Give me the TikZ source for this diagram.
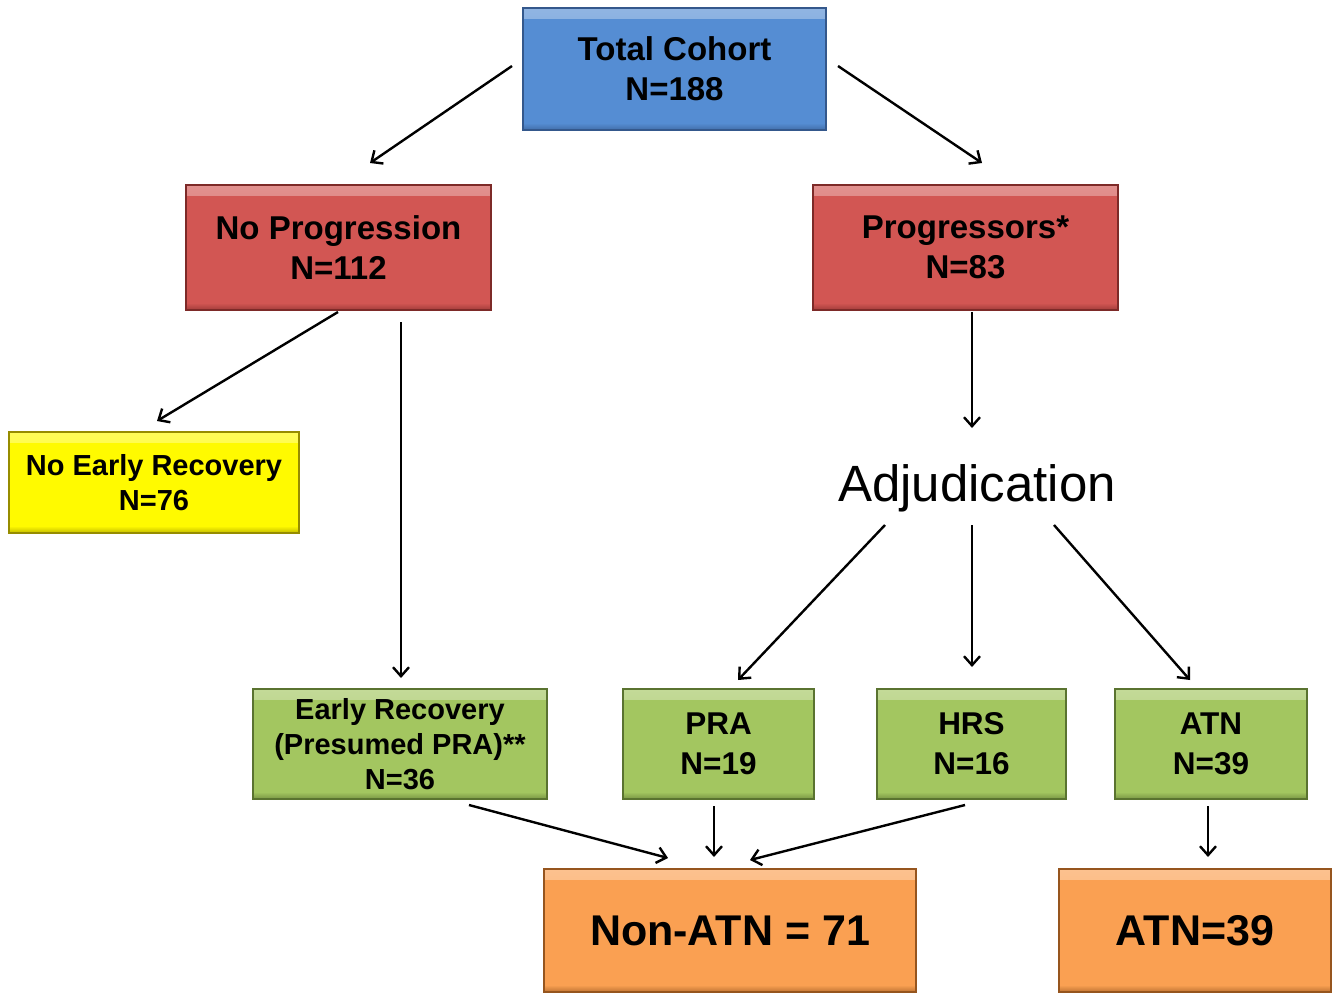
\documentclass[tikz,border=0pt]{standalone}
\usepackage{fontspec}
\setmainfont{Liberation Sans}
\usetikzlibrary{arrows.meta}
\definecolor{cblue}{RGB}{85,141,211}
\definecolor{cbluedk}{RGB}{52,88,140}
\definecolor{cred}{RGB}{210,86,83}
\definecolor{creddk}{RGB}{125,42,40}
\definecolor{cyel}{RGB}{255,250,0}
\definecolor{cyeldk}{RGB}{150,140,0}
\definecolor{cgreen}{RGB}{163,198,96}
\definecolor{cgreendk}{RGB}{90,115,48}
\definecolor{corange}{RGB}{250,160,82}
\definecolor{corangedk}{RGB}{150,85,30}
\tikzset{
  box/.style 2 args={draw=#2, line width=2.4pt, fill=#1, align=center, inner sep=0pt, text=black,
    path picture={
      \shade[top color=#1!65!white, bottom color=#1]
        ([xshift=1pt,yshift=-1pt]path picture bounding box.north west) rectangle
        ([xshift=-1pt,yshift=-10pt]path picture bounding box.north east);
      \shade[top color=#1, bottom color=#2!50!#1]
        ([xshift=1pt,yshift=7pt]path picture bounding box.south west) rectangle
        ([xshift=-1pt,yshift=1pt]path picture bounding box.south east);
    }},
  bigfont/.style={font=\fontsize{33}{40}\bfseries\selectfont},
  midfont/.style={font=\fontsize{29}{35}\bfseries\selectfont},
  grnfont/.style={font=\fontsize{31.5}{40}\bfseries\selectfont},
  hugefont/.style={font=\fontsize{43}{50}\bfseries\selectfont},
  arr/.style={line width=2.4pt, -{Straight Barb[length=9pt,width=16pt,line width=2.4pt]}},
}
\begin{document}
\begin{tikzpicture}[x=1pt,y=-1pt]
\useasboundingbox[fill=white] (0,0) rectangle (1339,994);

\node[box={cblue}{cbluedk}, bigfont, minimum width=303pt, minimum height=122pt] (tc) at (674.5,69) {Total Cohort\\N=188};
\node[box={cred}{creddk}, bigfont, minimum width=305pt, minimum height=125pt] (np) at (338.5,247.5) {No Progression\\N=112};
\node[box={cred}{creddk}, bigfont, minimum width=305pt, minimum height=125pt] (pr) at (965.5,247.5) {Progressors*\\N=83};
\node[box={cyel}{cyeldk}, midfont, minimum width=290pt, minimum height=101pt] (ner) at (154,482.5) {No Early Recovery\\N=76};
\node[font=\fontsize{51}{56}\selectfont] (adj) at (977,488) {Adjudication};
\node[box={cgreen}{cgreendk}, midfont, minimum width=294pt, minimum height=110pt] (er) at (400,744) {Early Recovery\\(Presumed PRA)**\\N=36};
\node[box={cgreen}{cgreendk}, grnfont, minimum width=191pt, minimum height=110pt] (pra) at (718.5,744) {PRA\\N=19};
\node[box={cgreen}{cgreendk}, grnfont, minimum width=189pt, minimum height=110pt] (hrs) at (971.5,744) {HRS\\N=16};
\node[box={cgreen}{cgreendk}, grnfont, minimum width=192pt, minimum height=110pt] (atn) at (1211,744) {ATN\\N=39};
\node[box={corange}{corangedk}, hugefont, minimum width=372pt, minimum height=123pt] (nonatn) at (730,930.5) {Non-ATN = 71};
\node[box={corange}{corangedk}, hugefont, minimum width=272pt, minimum height=123pt] (atnf) at (1195,930.5) {ATN=39};

% connector end points
\coordinate (tcL) at (512,66);   \coordinate (npT) at (370,163);
\coordinate (tcR) at (838,66);   \coordinate (prT) at (982,163);
\coordinate (npB1) at (338,312); \coordinate (nerT) at (157,421);
\coordinate (npB2) at (401,322); \coordinate (erT) at (401,678);
\coordinate (prB) at (972,312);  \coordinate (adjT) at (972,428);
\coordinate (adjB1) at (885,525); \coordinate (praT) at (738,680);
\coordinate (adjB2) at (972,525); \coordinate (hrsT) at (972,667);
\coordinate (adjB3) at (1054,525); \coordinate (atnT) at (1190,680);
\coordinate (erB) at (469,805);  \coordinate (naT1) at (668,858);
\coordinate (praB) at (714,806); \coordinate (naT2) at (714,857);
\coordinate (hrsB) at (965,805); \coordinate (naT3) at (750,860);
\coordinate (atnB) at (1208,806); \coordinate (atnfT) at (1208,857);

\draw[arr] (tcL) -- (npT);
\draw[arr] (tcR) -- (prT);
\draw[arr] (npB1) -- (nerT);
\draw[arr] (npB2) -- (erT);
\draw[arr] (prB) -- (adjT);
\draw[arr] (adjB1) -- (praT);
\draw[arr] (adjB2) -- (hrsT);
\draw[arr] (adjB3) -- (atnT);
\draw[arr] (erB) -- (naT1);
\draw[arr] (praB) -- (naT2);
\draw[arr] (hrsB) -- (naT3);
\draw[arr] (atnB) -- (atnfT);
\end{tikzpicture}
\end{document}
